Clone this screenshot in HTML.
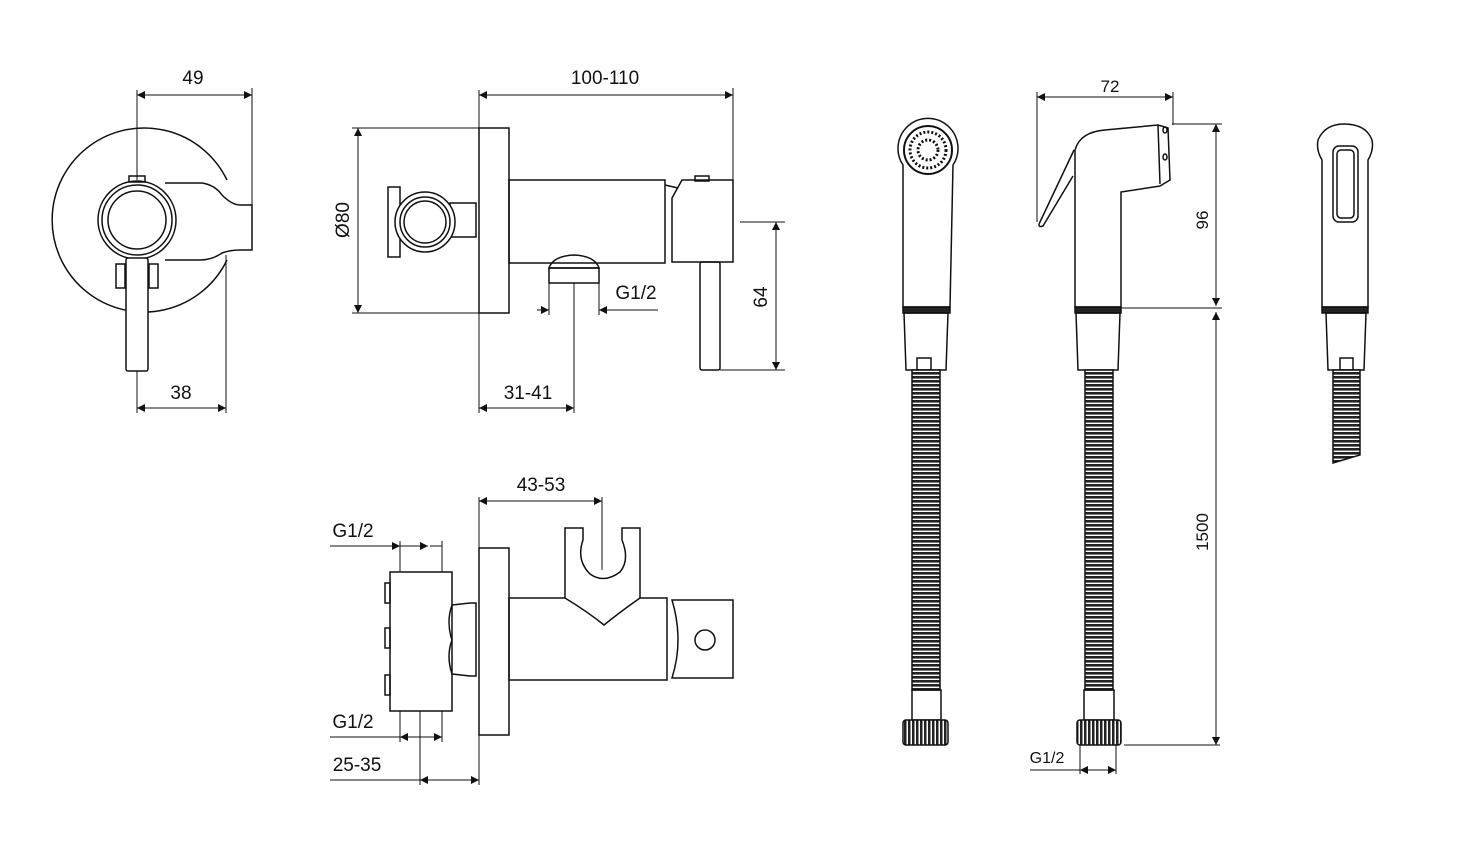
<!DOCTYPE html>
<html><head><meta charset="utf-8"><style>
html,body{margin:0;padding:0;background:#fff}
svg{display:block}
text{font-family:"Liberation Sans",Arial,sans-serif;font-size:19px;fill:#111}
</style></head><body>
<svg width="1470" height="850" viewBox="0 0 1470 850" xmlns="http://www.w3.org/2000/svg">
<defs>
<marker id="a" viewBox="0 0 10 10" refX="10" refY="5" markerWidth="11" markerHeight="8" markerUnits="userSpaceOnUse" orient="auto-start-reverse"><path d="M0,0L10,5L0,10z" fill="#111"/></marker>
<pattern id="hose" width="6" height="4" patternUnits="userSpaceOnUse"><rect width="6" height="4" fill="#fff"/><rect width="6" height="2.6" fill="#222"/></pattern>
<pattern id="knurl" width="4" height="6" patternUnits="userSpaceOnUse"><rect width="4" height="6" fill="#fff"/><rect width="2.5" height="6" fill="#222"/></pattern>
</defs>
<g fill="none" stroke="#111" stroke-width="1.5">
<!-- LEFT FRONT VIEW -->
<path d="M227,260 A92,92 0 1 1 227,180"/>
<path d="M165,183 L202,183 Q215,185 222,195 Q232,205 240,205 L252,205 L252,250 L240,250 Q230,250 222,253 Q212,260 200,260 L165,260"/>
<circle cx="137" cy="220" r="39" fill="#fff"/>
<circle cx="137" cy="220" r="35"/>
<circle cx="137" cy="220" r="29"/>
<rect x="129" y="176" width="16" height="6"/>
<rect x="116" y="264" width="9" height="24"/><rect x="149" y="264" width="9" height="24"/>
<rect x="126" y="258" width="22" height="113" rx="2" fill="#fff"/>
<!-- dims 49/38 -->
<line x1="137" y1="90" x2="137" y2="180" stroke-width="1"/>
<line x1="252" y1="88" x2="252" y2="205" stroke-width="1"/>
<line x1="137" y1="95" x2="252" y2="95" marker-start="url(#a)" marker-end="url(#a)" stroke-width="1"/>
<line x1="137" y1="371" x2="137" y2="413" stroke-width="1"/>
<line x1="226" y1="255" x2="226" y2="413" stroke-width="1"/>
<line x1="137" y1="408" x2="226" y2="408" marker-start="url(#a)" marker-end="url(#a)" stroke-width="1"/>

<!-- SIDE VIEW -->
<rect x="479" y="128" width="30" height="185"/>
<rect x="509" y="180" width="156" height="83"/>
<path d="M672,198 L682,180 L733,180 L733,262 L672,262 Z"/>
<path d="M665,185 L678,188"/>
<rect x="700" y="262" width="20" height="108" rx="2"/>
<rect x="695" y="176" width="14" height="5"/>
<rect x="388" y="187" width="12" height="70"/>
<rect x="450" y="203" width="26" height="34"/>
<circle cx="425" cy="222" r="30" fill="#fff"/>
<circle cx="425" cy="222" r="25"/><circle cx="425" cy="222" r="21"/>
<path d="M549,268 Q553,256 574,255 Q595,256 599,268 Z"/>
<rect x="549" y="268" width="50" height="15"/>
<!-- dims -->
<line x1="479" y1="90" x2="479" y2="128" stroke-width="1"/>
<line x1="733" y1="88" x2="733" y2="180" stroke-width="1"/>
<line x1="479" y1="95" x2="733" y2="95" marker-start="url(#a)" marker-end="url(#a)" stroke-width="1"/>
<line x1="352" y1="128" x2="479" y2="128" stroke-width="1"/>
<line x1="352" y1="313" x2="479" y2="313" stroke-width="1"/>
<line x1="358" y1="128" x2="358" y2="313" marker-start="url(#a)" marker-end="url(#a)" stroke-width="1"/>
<line x1="740" y1="222" x2="785" y2="222" stroke-width="1"/>
<line x1="720" y1="370" x2="785" y2="370" stroke-width="1"/>
<line x1="776" y1="222" x2="776" y2="370" marker-start="url(#a)" marker-end="url(#a)" stroke-width="1"/>
<line x1="549" y1="283" x2="549" y2="315" stroke-width="1"/>
<line x1="599" y1="283" x2="599" y2="315" stroke-width="1"/>
<line x1="537" y1="310" x2="549" y2="310" marker-end="url(#a)" stroke-width="1"/>
<line x1="658" y1="310" x2="599" y2="310" marker-end="url(#a)" stroke-width="1"/>
<line x1="574" y1="283" x2="574" y2="413" stroke-width="1"/>
<line x1="479" y1="313" x2="479" y2="413" stroke-width="1"/>
<line x1="479" y1="408" x2="574" y2="408" marker-start="url(#a)" marker-end="url(#a)" stroke-width="1"/>

<!-- BOTTOM VIEW -->
<rect x="479" y="548" width="30" height="187"/>
<rect x="509" y="598" width="158" height="82"/>
<path d="M565,598 L565,528 L583,528 L583,540 Q576,560 590,574 Q604,584 620,572 Q630,560 622,540 L622,528 L640,528 L640,598 Q620,612 604,625 Q588,612 565,598 Z" fill="#fff"/>
<path d="M672,600 L733,600 L733,678 L672,678 Q684,640 672,600 Z"/>
<circle cx="705" cy="640" r="10"/>
<rect x="390" y="572" width="62" height="139"/>
<rect x="385" y="583" width="5" height="20"/><rect x="385" y="628" width="5" height="20"/><rect x="385" y="675" width="5" height="20"/>
<path d="M452,605 L470,603 L476,603 L476,676 L470,676 L452,674 Q446,656 452,640 Q446,622 452,605 Z"/>
<!-- dims -->
<line x1="479" y1="497" x2="479" y2="548" stroke-width="1"/>
<line x1="602" y1="497" x2="602" y2="570" stroke-width="1"/>
<line x1="479" y1="501" x2="602" y2="501" marker-start="url(#a)" marker-end="url(#a)" stroke-width="1"/>
<line x1="330" y1="546" x2="400" y2="546" stroke-width="1"/>
<line x1="400" y1="541" x2="400" y2="572" stroke-width="1"/>
<line x1="442" y1="541" x2="442" y2="572" stroke-width="1"/>
<line x1="388" y1="546" x2="400" y2="546" marker-end="url(#a)" stroke-width="1"/>
<line x1="400" y1="546" x2="428" y2="546" marker-end="url(#a)" stroke-width="1"/>
<line x1="430" y1="546" x2="442" y2="546" stroke-width="1"/>
<line x1="330" y1="737" x2="442" y2="737" stroke-width="1"/>
<line x1="400" y1="711" x2="400" y2="742" stroke-width="1"/>
<line x1="442" y1="711" x2="442" y2="742" stroke-width="1"/>
<line x1="412" y1="737" x2="400" y2="737" marker-end="url(#a)" stroke-width="1"/>
<line x1="430" y1="737" x2="442" y2="737" marker-end="url(#a)" stroke-width="1"/>
<line x1="420" y1="711" x2="420" y2="785" stroke-width="1"/>
<line x1="479" y1="735" x2="479" y2="785" stroke-width="1"/>
<line x1="330" y1="780" x2="479" y2="780" stroke-width="1"/>
<line x1="420" y1="780" x2="479" y2="780" marker-start="url(#a)" marker-end="url(#a)" stroke-width="1"/>

<!-- SHOWER 1 -->
<path d="M903,165 A30,30 0 1 1 953,165 L950,307 L903,307 Z" fill="#fff"/>
<circle cx="928" cy="150" r="24" stroke-width="2"/>
<circle cx="928" cy="150" r="18" stroke-dasharray="2 2" stroke-width="3"/>
<circle cx="928" cy="150" r="10" stroke-dasharray="2 2" stroke-width="3"/>
<rect x="903" y="307" width="47" height="6" fill="#222"/>
<path d="M904,313 L948,313 L946,370 L906,370 Z"/>
<rect x="917" y="358" width="14" height="12"/>
<rect x="912" y="370" width="28" height="320" fill="url(#hose)"/>
<rect x="912" y="690" width="29" height="30"/>
<rect x="903" y="720" width="45" height="25" rx="3" fill="url(#knurl)"/>
<!-- SHOWER 2 -->
<path d="M1075,307 L1075,150 Q1080,132 1105,130 L1158,125 L1168,128 L1170,180 L1160,186 L1121,192 L1121,307 Z" fill="#fff"/>
<path d="M1158,125 L1160,184"/>
<ellipse cx="1165" cy="130" rx="2" ry="3"/><ellipse cx="1165" cy="157" rx="2" ry="3"/>
<path d="M1074,150 L1040,222 Q1037,228 1043,226 L1073,176"/>
<rect x="1075" y="307" width="46" height="6" fill="#222"/>
<path d="M1076,313 L1120,313 L1118,370 L1078,370 Z"/>
<rect x="1085" y="370" width="28" height="320" fill="url(#hose)"/>
<rect x="1084" y="690" width="30" height="30"/>
<rect x="1077" y="720" width="44" height="25" rx="3" fill="url(#knurl)"/>
<!-- SHOWER 3 -->
<path d="M1322,307 L1322,160 Q1316,150 1318,140 Q1325,124 1344,124 Q1366,124 1372,140 Q1374,150 1368,160 L1368,307 Z"/>
<rect x="1333" y="146" width="25" height="76" rx="6"/>
<rect x="1337" y="150" width="17" height="68" rx="4"/>
<rect x="1322" y="307" width="46" height="6" fill="#222"/>
<path d="M1326,313 L1366,313 L1364,370 L1328,370 Z"/>
<rect x="1340" y="358" width="13" height="12"/>
<path d="M1333,370 L1360,370 L1360,455 L1333,463 Z" fill="url(#hose)"/>
<!-- dims right -->
<line x1="1037" y1="92" x2="1037" y2="222" stroke-width="1"/>
<line x1="1173" y1="92" x2="1173" y2="125" stroke-width="1"/>
<line x1="1037" y1="97" x2="1173" y2="97" marker-start="url(#a)" marker-end="url(#a)" stroke-width="1"/>
<line x1="1172" y1="124" x2="1222" y2="124" stroke-width="1"/>
<line x1="1121" y1="308" x2="1222" y2="308" stroke-width="1"/>
<line x1="1216" y1="124" x2="1216" y2="306" marker-start="url(#a)" marker-end="url(#a)" stroke-width="1"/>
<line x1="1216" y1="312" x2="1216" y2="745" marker-start="url(#a)" marker-end="url(#a)" stroke-width="1"/>
<line x1="1124" y1="745" x2="1220" y2="745" stroke-width="1"/>
<line x1="1080" y1="745" x2="1080" y2="774" stroke-width="1"/>
<line x1="1116" y1="745" x2="1116" y2="774" stroke-width="1"/>
<line x1="1030" y1="770" x2="1080" y2="770" stroke-width="1"/>
<line x1="1080" y1="770" x2="1116" y2="770" marker-start="url(#a)" marker-end="url(#a)" stroke-width="1"/>
</g>
<text x="193" y="84" text-anchor="middle">49</text>
<text x="181" y="399" text-anchor="middle">38</text>
<text x="605" y="84" text-anchor="middle">100-110</text>
<text x="528" y="399" text-anchor="middle">31-41</text>
<text x="636" y="299" text-anchor="middle">G1/2</text>
<text transform="translate(349,220) rotate(-90)" text-anchor="middle">Ø80</text>
<text transform="translate(767,297) rotate(-90)" text-anchor="middle">64</text>
<text x="541" y="491" text-anchor="middle">43-53</text>
<text x="353" y="537" text-anchor="middle">G1/2</text>
<text x="353" y="728" text-anchor="middle">G1/2</text>
<text x="357" y="771" text-anchor="middle">25-35</text>
<text x="1110" y="92" text-anchor="middle" style="font-size:17px">72</text>
<text transform="translate(1208,220) rotate(-90)" text-anchor="middle" style="font-size:17px">96</text>
<text transform="translate(1208,532) rotate(-90)" text-anchor="middle" style="font-size:17px">1500</text>
<text x="1047" y="763" text-anchor="middle" style="font-size:16px">G1/2</text>
</svg>
</body></html>
